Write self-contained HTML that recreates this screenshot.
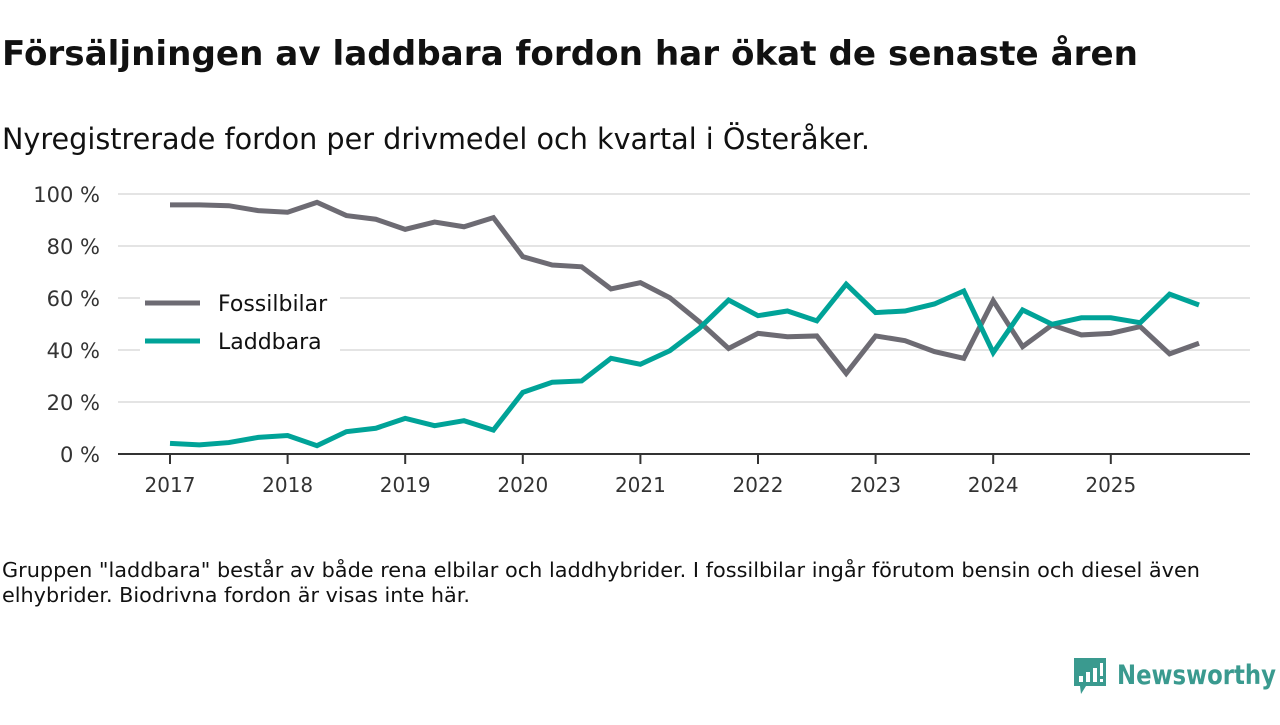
<!DOCTYPE html>
<html><head><meta charset="utf-8"><style>
body{margin:0;background:#fff;font-family:"Liberation Sans","DejaVu Sans",sans-serif;}
svg text{font-family:"DejaVu Sans","Liberation Sans",sans-serif;}
</style></head><body>
<svg id="chart" width="1280" height="720" viewBox="0 0 1280 720">
<text x="2" y="65" font-size="34" font-weight="bold" fill="#111" textLength="1136" lengthAdjust="spacingAndGlyphs">Försäljningen av laddbara fordon har ökat de senaste åren</text>
<text x="2" y="149" font-size="29" fill="#111" textLength="868" lengthAdjust="spacingAndGlyphs">Nyregistrerade fordon per drivmedel och kvartal i Österåker.</text>
<g id="grid"></g><g id="xaxis"></g><g id="lines"></g>
<g>
<rect x="140" y="282" width="200" height="74" fill="#fff"/>
<line x1="145" y1="303" x2="200" y2="303" stroke="#6d6b73" stroke-width="5"/>
<text x="218" y="311" font-size="22" fill="#111">Fossilbilar</text>
<line x1="145" y1="341" x2="200" y2="341" stroke="#00a398" stroke-width="5"/>
<text x="218" y="349" font-size="22" fill="#111">Laddbara</text>
</g>
<text x="2" y="577" font-size="20" fill="#111" textLength="1198" lengthAdjust="spacingAndGlyphs">Gruppen "laddbara" består av både rena elbilar och laddhybrider. I fossilbilar ingår förutom bensin och diesel även</text>
<text x="2" y="602" font-size="20" fill="#111" textLength="468" lengthAdjust="spacingAndGlyphs">elhybrider. Biodrivna fordon är visas inte här.</text>
<g>
<path d="M1074 658 h32 v28 h-20 l-5 8 l-1 -8 h-6 z" fill="#3a9a8f"/>
<rect x="1079" y="676" width="4" height="6" fill="#fff"/><rect x="1086" y="672" width="4" height="10" fill="#fff"/><rect x="1093" y="668" width="4" height="14" fill="#fff"/><rect x="1100" y="663" width="3" height="13" fill="#fff"/><rect x="1100" y="679" width="3" height="3" fill="#fff"/>
<text x="1117" y="684" font-size="27" font-weight="bold" fill="#3a9a8f" textLength="159" lengthAdjust="spacingAndGlyphs">Newsworthy</text>
</g>
</svg>
<script>
const quarters = ["2017Q1","2017Q2","2017Q3","2017Q4","2018Q1","2018Q2","2018Q3","2018Q4","2019Q1","2019Q2","2019Q3","2019Q4","2020Q1","2020Q2","2020Q3","2020Q4","2021Q1","2021Q2","2021Q3","2021Q4","2022Q1","2022Q2","2022Q3","2022Q4","2023Q1","2023Q2","2023Q3","2023Q4","2024Q1","2024Q2","2024Q3","2024Q4","2025Q1","2025Q2","2025Q3","2025Q4"];
const fossil = [95.8,95.8,95.5,93.6,93,96.8,91.7,90.3,86.4,89.2,87.4,90.9,75.9,72.7,72,63.5,65.9,60.1,50.9,40.6,46.4,45.1,45.4,31,45.4,43.6,39.4,36.8,59,41.3,49.6,45.8,46.4,49,38.5,42.6];
const laddbara = [4.1,3.5,4.4,6.4,7.1,3.2,8.6,9.9,13.7,10.9,12.8,9.2,23.7,27.6,28.1,36.8,34.5,39.7,48.3,59.2,53.2,55,51.2,65.3,54.4,55,57.7,62.7,39,55.4,49.9,52.4,52.4,50.5,61.5,57.3];
const yTicks = [0,20,40,60,80,100];
const xTickYears = [2017,2018,2019,2020,2021,2022,2023,2024,2025];
const NS="http://www.w3.org/2000/svg";
const x0=170, qw=29.4, y0=454, yk=2.6;
const xs=i=>x0+i*qw, ys=v=>y0-v*yk;
function mk(t,a,p){const e=document.createElementNS(NS,t);for(const k in a)e.setAttribute(k,a[k]);p.appendChild(e);return e;}
const grid=document.getElementById('grid');
yTicks.forEach(v=>{
 if(v>0){const l=mk('line',{x1:118,x2:1250,y1:ys(v),y2:ys(v),stroke:'#dcdcdc','stroke-width':1.5},grid);
 
 }
 const t=mk('text',{x:100,y:ys(v)+8,'text-anchor':'end','font-size':21,fill:'#333'},grid);
 t.textContent=v+' %';
 
 
});
const xa=document.getElementById('xaxis');
const ax=mk('line',{x1:118,x2:1250,y1:y0,y2:y0,stroke:'#333','stroke-width':2},xa);


xTickYears.forEach((yr,i)=>{
 const x=xs(quarters.indexOf(yr+'Q1'));
 mk('line',{x1:x,x2:x,y1:y0,y2:y0+10,stroke:'#333','stroke-width':2},xa);
 const t=mk('text',{x:x,y:y0+38,'text-anchor':'middle','font-size':20,fill:'#333'},xa);
 t.textContent=yr;
 
 
});
const lines=document.getElementById('lines');
function drawLine(vals,color,name){
 const p=mk('polyline',{points:vals.map((v,i)=>xs(i)+','+ys(v)).join(' '),fill:'none',stroke:color,'stroke-width':5,'stroke-linejoin':'miter'},lines);
 
 
}
drawLine(fossil,'#6d6b73','line-fossilbilar');
drawLine(laddbara,'#00a398','line-laddbara');
</script>
</body></html>
